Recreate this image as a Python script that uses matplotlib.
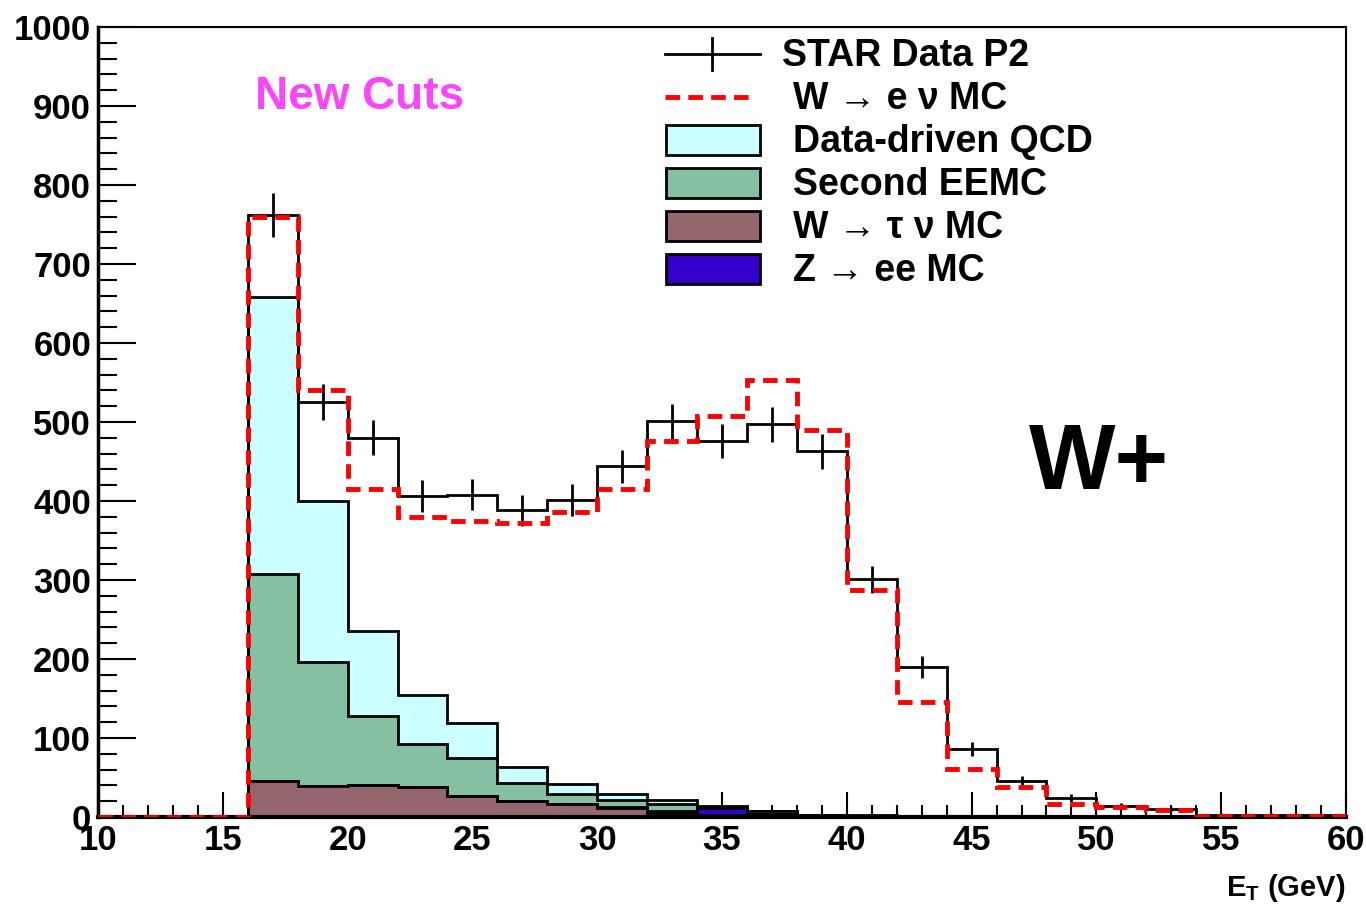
import matplotlib.pyplot as plt
from matplotlib.patches import Rectangle
from matplotlib.ticker import MultipleLocator
import numpy as np

plt.rcParams['font.family'] = ['Liberation Sans', 'DejaVu Sans']
plt.rcParams['font.weight'] = 'bold'
plt.rcParams['mathtext.fontset'] = 'custom'
plt.rcParams['mathtext.rm'] = 'Liberation Sans:bold'
plt.rcParams['mathtext.bf'] = 'Liberation Sans:bold'

# E_T bin edges, 2 GeV wide from 10 to 60
edges = np.arange(10, 62, 2)

# STAR data (counts per bin) and its statistical errors
data = [0, 0, 0, 762, 525, 480, 406, 408, 388, 401, 444, 501, 476,
        497, 463, 301, 190, 86, 45, 24, 14, 10, 3, 3, 2]
data_err = [0, 0, 0, 28, 23, 22, 20, 20, 20, 20, 21, 22, 22,
            22, 22, 17, 14, 9, 7, 5, 4, 3, 2, 2, 1.5]

# W -> e nu MC (plus backgrounds)
w_enu = [0, 0, 0, 760, 540, 415, 380, 375, 372, 386, 415, 476, 508,
         553, 490, 287, 145, 61, 38, 17, 13, 9, 1.5, 1.5, 1]

# background components
qcd = [0, 0, 0, 351, 204, 108, 62, 44, 20, 13, 8, 6, 0.5,
       0.5, 0.5, 0.3, 0.2, 0, 0, 0, 0, 0, 0, 0, 0]
eemc = [0, 0, 0, 262, 157, 87, 55, 48, 23, 13, 8, 9, 1,
        3, 0.5, 0.3, 0.2, 0, 0, 0, 0, 0, 0, 0, 0]
w_taunu = [0, 0, 0, 45, 39, 41, 38, 27, 20, 16, 12, 5, 3,
           1, 0.5, 0.3, 0.2, 0.1, 0, 0, 0, 0, 0, 0, 0]
z_ee = [0, 0, 0, 0, 0, 0, 0, 0, 0, 0, 1, 2, 9,
        3, 1, 1, 1, 1, 0, 0, 0, 0, 0, 0, 0]

c_qcd = '#ccffff'
c_eemc = '#86c0a2'
c_tau = '#96666e'
c_z = '#3300cc'
red_dash = (0, (3, 1.7))

fig = plt.figure(figsize=(13.66, 9.13), dpi=100)
ax = fig.add_axes([98 / 1366, 1 - 817 / 913, 1248 / 1366, 790 / 913])

# stacked backgrounds: tau at bottom, then Z, EEMC, QCD on top
s_tau = np.array(w_taunu)
s_z = s_tau + np.array(z_ee)
s_eemc = s_z + np.array(eemc)
s_qcd = s_eemc + np.array(qcd)
for tops, col in [(s_qcd, c_qcd), (s_eemc, c_eemc), (s_z, c_z), (s_tau, c_tau)]:
    ax.stairs(tops, edges, baseline=0, fill=True, facecolor=col,
              edgecolor='black', linewidth=2, zorder=2)

# data histogram with error crosses
ax.stairs(data, edges, baseline=0, color='black', linewidth=2, zorder=3)
centers = (edges[:-1] + edges[1:]) / 2
d = np.array(data)
e = np.array(data_err)
mask = d > 0
ax.errorbar(centers[mask], d[mask], yerr=e[mask], fmt='none', ecolor='black',
            elinewidth=2, capsize=0, zorder=3)

# MC curve
ax.stairs(w_enu, edges, baseline=0, color='red', linewidth=3.5,
          linestyle=red_dash, zorder=4)

ax.set_xlim(10, 60)
ax.set_ylim(0, 1000)
ax.xaxis.set_major_locator(MultipleLocator(5))
ax.xaxis.set_minor_locator(MultipleLocator(1))
ax.yaxis.set_major_locator(MultipleLocator(100))
ax.yaxis.set_minor_locator(MultipleLocator(20))
ax.tick_params(axis='y', which='major', direction='in', length=27, width=1.5,
               labelsize=25, pad=5, right=False)
ax.tick_params(axis='y', which='minor', direction='in', length=14, width=1.5, right=False)
ax.tick_params(axis='x', which='major', direction='in', length=18, width=1.5,
               labelsize=25, pad=5, top=False)
ax.tick_params(axis='x', which='minor', direction='in', length=9, width=1.5, top=False)
for lab in ax.get_xticklabels() + ax.get_yticklabels():
    lab.set_fontweight('bold')
ax.spines['left'].set_linewidth(2.5)
ax.spines['bottom'].set_linewidth(3)
ax.spines['top'].set_linewidth(1.5)
ax.spines['right'].set_linewidth(1.5)

ax.text(16.3, 911, 'New Cuts', color='#ff44ff', fontsize=33, fontweight='bold',
        va='center', ha='left', zorder=5)
ax.text(47.3, 446, 'W+', color='black', fontsize=66, fontweight='bold',
        va='center', ha='left', zorder=5)
fig.text(1345 / 1366, 1 - 888 / 913, r'$\mathbf{E_T}$ (GeV)', fontsize=21,
         fontweight='bold', ha='right', va='center')


# legend drawn in pixel-like axes coordinates
def ax_x(px):
    return (px - 98) / 1248


def ax_y(py):
    return (817 - py) / 790


tr = ax.transAxes
rows = [54, 97, 140, 183, 226, 269]
ax.plot([ax_x(665), ax_x(760)], [ax_y(rows[0])] * 2, color='black', lw=2, transform=tr, zorder=6)
ax.plot([ax_x(712)] * 2, [ax_y(rows[0] - 16), ax_y(rows[0] + 16)], color='black', lw=2,
        transform=tr, zorder=6)
ax.plot([ax_x(665), ax_x(755)], [ax_y(rows[1])] * 2, color='red', lw=3.5,
        linestyle=red_dash, transform=tr, zorder=6)
for py, col in zip(rows[2:], [c_qcd, c_eemc, c_tau, c_z]):
    ax.add_patch(Rectangle((ax_x(666), ax_y(py + 15)), ax_x(760) - ax_x(666),
                           ax_y(py - 15) - ax_y(py + 15), facecolor=col,
                           edgecolor='black', linewidth=2, transform=tr, zorder=6))

labels = ['STAR Data P2', 'W \u2192 e \u03bd MC', 'Data-driven QCD', 'Second EEMC',
          'W \u2192 \u03c4 \u03bd MC', 'Z \u2192 ee MC']
lab_x = [782, 793, 793, 793, 793, 793]
for py, px, txt in zip(rows, lab_x, labels):
    ax.text(ax_x(px), ax_y(py + 2), txt, fontsize=27, fontweight='bold', ha='left',
            va='center', transform=tr, zorder=6)

fig.savefig('out.png', dpi=100, facecolor='white')
